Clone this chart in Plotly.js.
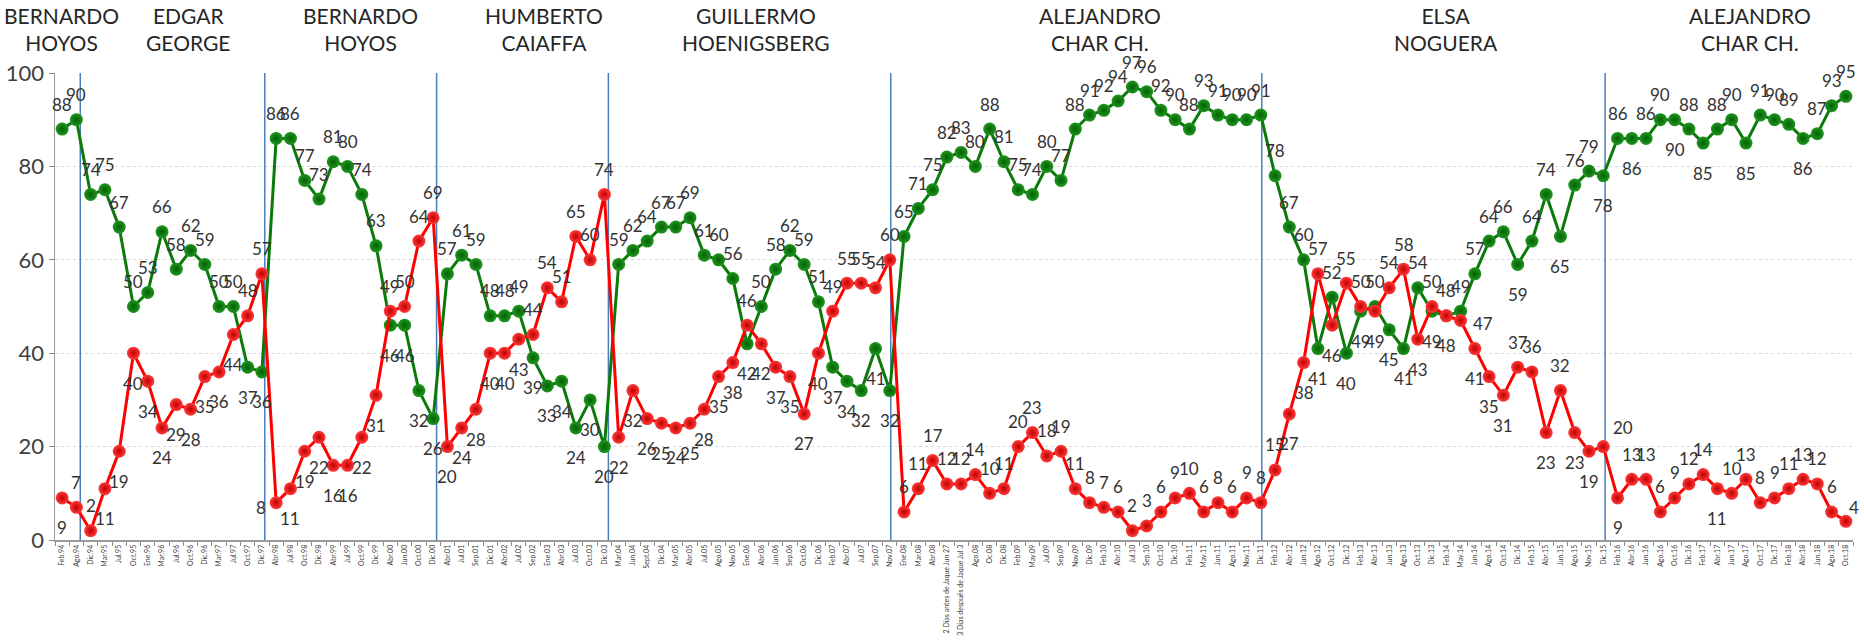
<!DOCTYPE html>
<html>
<head>
<meta charset="utf-8">
<script src="https://cdn.plot.ly/plotly-3.0.1.min.js"></script>
<style>html,body{margin:0;padding:0;background:#fff;}#chart{width:1864px;height:643px;}</style>
</head>
<body>
<div id="chart"></div>
<script>
// Categories (survey dates)
const categories = [
"Feb.94","Ago.94","Dic.94","Mar.95","Jul.95","Oct.95","Ene.96","Mar.96","Jul.96","Oct.96","Dic.96","Mar.97","Jul.97","Oct.97","Dic.97",
"Abr.98","Jul.98","Oct.98","Dic.98","Abr.99","Jul.99","Oct.99","Dic.99","Abr.00","Jun.00","Oct.00","Dic.00",
"Abr.01","Jul.01","Sep.01","Dic.01","Abr.02","Jul.02","Sep.02","Ene.03","Abr.03","Jul.03","Oct.03","Dic.03",
"Mar.04","Jun.04","Sept.04","Dic.04","Mar.05","Abr.05","Jul.05","Ago.05","Nov.05","Ene.06","Abr.06","Jun.06","Sep.06","Oct.06","Dic.06","Feb.07","Abr.07","Jul.07","Sep.07","Nov.07",
"Ene.08","Mar.08","Abr.08","2 Días antes de Jaque Jun 27","3 Días después de Jaque Jul 3","Ago.08","Oc.08","Dic.08","Feb.09","May.09","Jul.09","Sep.09","Nov.09","Dic.09","Feb.10","Abr.10","Jul.10","Sep.10","Oct.10","Dic.10","Feb.11","May.11","Jun.11","Ago.11","Nov.11","Dic.11",
"Feb.12","Abr.12","Jun.12","Ago.12","Oct.12","Dic.12","Feb.13","Abr.13","Jun.13","Ago.13","Oct.13","Dic.13","Feb.14","May.14","Jun.14","Ago.14","Oct.14","Dic.14","Feb.15","Abr.15","Jun.15","Ago.15","Nov.15","Dic.15",
"Feb.16","Abr.16","Jun.16","Ago.16","Oct.16","Dic.16","Feb.17","Abr.17","Jun.17","Ago.17","Oct.17","Dic.17","Feb.18","Abr.18","Jun.18","Ago.18","Oct.18"
];

// Green series
const greenValues = [
88,90,74,75,67,50,53,66,58,62,59,50,50,37,36,
86,86,77,73,81,80,74,63,46,46,32,26,
57,61,59,48,48,49,39,33,34,24,30,20,
59,62,64,67,67,69,61,60,56,42,50,58,62,59,51,37,34,32,41,32,
65,71,75,82,83,80,88,81,75,74,80,77,88,91,92,94,97,96,92,90,88,93,91,90,90,91,
78,67,60,41,52,40,49,50,45,41,54,49,48,49,57,64,66,59,64,74,65,76,79,78,
86,86,86,90,90,88,85,88,90,85,91,90,89,86,87,93,95
];

// Red series
const redValues = [
9,7,2,11,19,40,34,24,29,28,35,36,44,48,57,
8,11,19,22,16,16,22,31,49,50,64,69,
20,24,28,40,40,43,44,54,51,65,60,74,
22,32,26,25,24,25,28,35,38,46,42,37,35,27,40,49,55,55,54,60,
6,11,17,12,12,14,10,11,20,23,18,19,11,8,7,6,2,3,6,9,10,6,8,6,9,8,
15,27,38,57,46,55,50,49,54,58,43,50,48,47,41,35,31,37,36,23,32,23,19,20,
9,13,13,6,9,12,14,11,10,13,8,9,11,13,12,6,4
];

// Period headers
const periodNames = ["BERNARDO<br>HOYOS","EDGAR<br>GEORGE","BERNARDO<br>HOYOS","HUMBERTO<br>CAIAFFA","GUILLERMO<br>HOENIGSBERG","ALEJANDRO<br>CHAR CH.","ELSA<br>NOGUERA","ALEJANDRO<br>CHAR CH."];

// Layout-only constants (label placement codes, header & separator positions)
const greenLabelPos = "aaaaaaaaaaaaabb" + "aaaaaaaabbbb" + "aaaaaabbbbbb" + "aaaaaaaaabaaaaabbbbb" + "a".repeat(26) + "aaababbabbabaaaaabaabaab" + "abaababaabaaabaaa";
const redLabelPos = "baabbbbbbbbbbaa" + "lbbbbbbbaaaa" + "bbbbbbaaaaaa" + "bbbbbbbbbabbbbbaaaaa" + "a".repeat(26) + "abbabaabaababrbbbaababbe" + "baaaaaabaaaaaaaaf";
const headerPaperX = [-0.0295, 0.0742, 0.1698, 0.2722, 0.3897, 0.5810, 0.7738, 0.9429];
const headerAnchor = ['left','center','center','center','center','center','center','center'];
const separatorX = [1.27, 14.2, 26.24, 38.28, 58.07, 84.07, 108.13];

const offsets = {a:[0,25], b:[0,-30], l:[-15,-5], r:[22,-3], e:[20,19], f:[8,14]};
const FONT = "Lato, 'Open Sans', sans-serif";

const annotations = [];
function addLabels(vals, codes) {
  vals.forEach((v, i) => {
    const o = offsets[codes[i]] || offsets.a;
    annotations.push({
      x: categories[i], y: v, xref: 'x', yref: 'y', text: String(v),
      showarrow: false, xshift: o[0], yshift: o[1],
      font: {family: FONT, size: 17, color: '#333333'}
    });
  });
}
addLabels(greenValues, greenLabelPos);
addLabels(redValues, redLabelPos);

periodNames.forEach((n, i) => {
  annotations.push({
    x: headerPaperX[i], y: 1.095, xref: 'paper', yref: 'paper', text: n,
    showarrow: false, xanchor: headerAnchor[i], yanchor: 'middle', align: 'center',
    font: {family: FONT, size: 21, color: '#262626'}
  });
});

const shapes = separatorX.map(x => ({
  type: 'line', xref: 'x', yref: 'y', x0: x, x1: x, y0: 0, y1: 100,
  line: {color: '#4a7ebb', width: 1.5}, layer: 'between'
}));

const traces = [
  {
    x: categories, y: greenValues, type: 'scatter', mode: 'lines+markers',
    line: {color: '#0b7a0b', width: 3},
    marker: {size: 13, color: '#1f961f', gradient: {type: 'radial', color: '#056005'}, line: {width: 0}},
    cliponaxis: false, hoverinfo: 'skip'
  },
  {
    x: categories, y: redValues, type: 'scatter', mode: 'lines+markers',
    line: {color: '#ff0000', width: 3},
    marker: {size: 13, color: '#ff3a3a', gradient: {type: 'radial', color: '#c00000'}, line: {width: 0}},
    cliponaxis: false, hoverinfo: 'skip'
  }
];

const layout = {
  width: 1864, height: 643,
  margin: {l: 55, r: 11, t: 73, b: 103},
  paper_bgcolor: '#ffffff', plot_bgcolor: '#ffffff',
  showlegend: false,
  font: {family: FONT, color: '#404040'},
  xaxis: {
    type: 'category', range: [-0.5, 125.5],
    tickson: 'boundaries', ticks: 'outside', ticklen: 4, tickcolor: '#8c8c8c', tickwidth: 1,
    showline: true, linecolor: '#9a9a9a', linewidth: 2,
    showgrid: false, zeroline: false,
    tickangle: -90, tickfont: {family: FONT, size: 7, color: '#404040'},
    automargin: false, fixedrange: true
  },
  yaxis: {
    range: [0, 100], tickvals: [0, 20, 40, 60, 80, 100],
    ticks: 'outside', ticklen: 5, tickcolor: '#8c8c8c',
    showline: true, linecolor: '#9a9a9a', linewidth: 1.5,
    showgrid: true, gridcolor: '#d9d9d9', griddash: 'dot', gridwidth: 1,
    zeroline: false, tickfont: {family: FONT, size: 22, color: '#404040'},
    automargin: false, fixedrange: true
  },
  annotations: annotations,
  shapes: shapes
};

Plotly.newPlot('chart', traces, layout, {displayModeBar: false, staticPlot: true});
</script>
</body>
</html>
